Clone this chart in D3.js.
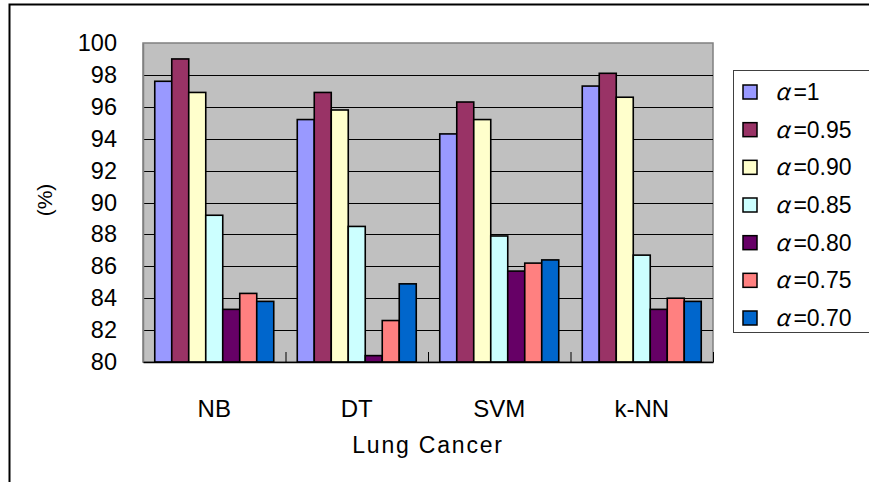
<!DOCTYPE html>
<html>
<head>
<meta charset="utf-8">
<script src="https://cdn.jsdelivr.net/npm/d3@7"></script>
<style>
  html, body { margin: 0; padding: 0; background: #fff; }
  svg { display: block; }
  text { font-family: "Liberation Sans", Arial, sans-serif; fill: #000; }
</style>
</head>
<body>
<svg id="chart" width="869" height="482"></svg>
<script>
// Classifier accuracy (%) on the Lung Cancer data for each alpha setting
const categories = ["NB", "DT", "SVM", "k-NN"];
const seriesNames = ["1", "0.95", "0.90", "0.85", "0.80", "0.75", "0.70"];
const seriesColors = ["#9999ff", "#993366", "#ffffcc", "#ccffff", "#660066", "#ff8080", "#0066cc"];
const alpha1   = [97.6, 95.2, 94.3, 97.3];
const alpha095 = [99.0, 96.9, 96.3, 98.1];
const alpha090 = [96.9, 95.8, 95.2, 96.6];
const alpha085 = [89.2, 88.5, 87.9, 86.7];
const alpha080 = [83.3, 80.4, 85.7, 83.3];
const alpha075 = [84.3, 82.6, 86.2, 84.0];
const alpha070 = [83.8, 84.9, 86.4, 83.8];
const yTicks = [80, 82, 84, 86, 88, 90, 92, 94, 96, 98, 100];
const xTitle = "Lung Cancer";
const yTitle = "(%)";

const seriesValues = [alpha1, alpha095, alpha090, alpha085, alpha080, alpha075, alpha070];

const svg = d3.select("#chart");

// outer chart frame (runs past the right and bottom edges)
svg.append("rect")
  .attr("x", 9.5).attr("y", 4.5)
  .attr("width", 900).attr("height", 600)
  .attr("fill", "none").attr("stroke", "#000").attr("stroke-width", 2);

const plot = { left: 143, right: 713, top: 43, bottom: 362 };

const x0 = d3.scaleBand().domain(categories).range([plot.left, plot.right]).padding(0);
const x1 = d3.scaleBand().domain(seriesNames)
  .range([x0.bandwidth() * 0.0825, x0.bandwidth() * 0.9175]).padding(0);
const y = d3.scaleLinear().domain([80, 100]).range([plot.bottom, plot.top]);

// plot background
svg.append("rect")
  .attr("x", plot.left).attr("y", plot.top)
  .attr("width", plot.right - plot.left).attr("height", plot.bottom - plot.top)
  .attr("fill", "#c0c0c0").attr("stroke", "#808080").attr("stroke-width", 1.5);

// horizontal gridlines
svg.append("g")
  .selectAll("line")
  .data(yTicks.filter(t => t > 80 && t < 100))
  .join("line")
  .attr("x1", plot.left).attr("x2", plot.right)
  .attr("y1", d => Math.round(y(d)) + 0.5).attr("y2", d => Math.round(y(d)) + 0.5)
  .attr("stroke", "#000").attr("stroke-width", 1);

// y axis labels
const yAxis = d3.axisLeft(y).tickValues(yTicks).tickSize(0).tickPadding(26);
const yg = svg.append("g").attr("transform", `translate(${plot.left},0)`).call(yAxis);
yg.select(".domain").attr("stroke", "#808080").attr("stroke-width", 1.5);
yg.selectAll("text")
  .attr("font-family", "'Liberation Sans', Arial, sans-serif")
  .attr("font-size", 23.5).attr("fill", "#000");

// bars
const groups = svg.append("g")
  .selectAll("g")
  .data(seriesNames.map((name, i) => ({ name, color: seriesColors[i], values: seriesValues[i] })))
  .join("g")
  .attr("fill", d => d.color);

groups.selectAll("rect")
  .data(d => d.values.map((v, j) => ({ series: d.name, cat: categories[j], value: v })))
  .join("rect")
  .attr("x", d => x0(d.cat) + x1(d.series))
  .attr("y", d => y(d.value))
  .attr("width", x1.bandwidth())
  .attr("height", d => y(80) - y(d.value))
  .attr("stroke", "#000").attr("stroke-width", 1.6);

// x axis line with short category separators
const xAxis = d3.axisBottom(x0).tickSize(0).tickPadding(38);
const xg = svg.append("g").attr("transform", `translate(0,${plot.bottom})`).call(xAxis);
xg.select(".domain").attr("stroke", "#000").attr("stroke-width", 1.5);
xg.selectAll("text")
  .attr("font-family", "'Liberation Sans', Arial, sans-serif")
  .attr("font-size", 24).attr("fill", "#000");

svg.append("g")
  .selectAll("line")
  .data(categories.slice(1).map(c => x0(c)).concat([plot.right]))
  .join("line")
  .attr("x1", d => d + 0.5).attr("x2", d => d + 0.5)
  .attr("y1", plot.bottom).attr("y2", plot.bottom - 10)
  .attr("stroke", "#000").attr("stroke-width", 1);

// axis titles
svg.append("text")
  .attr("x", (plot.left + plot.right) / 2).attr("y", 453)
  .attr("text-anchor", "middle")
  .attr("font-size", 23).attr("letter-spacing", 1.8)
  .text(xTitle);

svg.append("text")
  .attr("transform", `translate(52,200) rotate(-90)`)
  .attr("text-anchor", "middle")
  .attr("font-size", 21)
  .text(yTitle);

// legend
const legend = svg.append("g");
legend.append("rect")
  .attr("x", 733.5).attr("y", 70.5)
  .attr("width", 150).attr("height", 262)
  .attr("fill", "#fff").attr("stroke", "#404040").attr("stroke-width", 1);

const rowY = d3.scalePoint().domain(seriesNames).range([92, 318]);
const items = legend.selectAll("g.item")
  .data(seriesNames.map((name, i) => ({ name, color: seriesColors[i] })))
  .join("g").attr("class", "item")
  .attr("transform", d => `translate(0,${rowY(d.name)})`);

items.append("rect")
  .attr("x", 743).attr("y", -7)
  .attr("width", 14).attr("height", 14)
  .attr("fill", d => d.color).attr("stroke", "#000").attr("stroke-width", 1.5);

const labels = items.append("text")
  .attr("x", 775).attr("y", 8)
  .attr("font-size", 23);
labels.append("tspan")
  .attr("font-family", "'Noto Sans CJK JP', sans-serif")
  .attr("font-style", "italic")
  .text("α");
labels.append("tspan")
  .attr("dx", 4)
  .text(d => "=" + d.name);
</script>
</body>
</html>
